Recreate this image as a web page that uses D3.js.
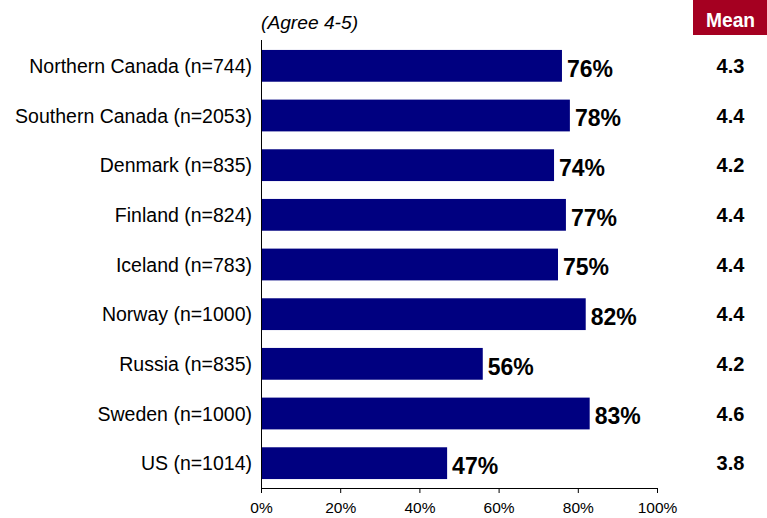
<!DOCTYPE html>
<html>
<head>
<meta charset="utf-8">
<script src="https://cdn.jsdelivr.net/npm/d3@7"></script>
<style>
  html, body { margin: 0; padding: 0; background: #fff; }
  svg { display: block; font-family: "Liberation Sans", Arial, sans-serif; }
</style>
</head>
<body>
<svg id="chart" width="767" height="518"></svg>
<script>
const categories = ["Northern Canada (n=744)", "Southern Canada (n=2053)", "Denmark (n=835)", "Finland (n=824)", "Iceland (n=783)", "Norway (n=1000)", "Russia (n=835)", "Sweden (n=1000)", "US (n=1014)"];
const agreePct = [76, 78, 74, 77, 75, 82, 56, 83, 47];
const means = ["4.3", "4.4", "4.2", "4.4", "4.4", "4.4", "4.2", "4.6", "3.8"];
const xTicks = [0, 20, 40, 60, 80, 100];

const svg = d3.select("#chart");
const x = d3.scaleLinear().domain([0, 100]).range([261, 657]);
const y = d3.scaleBand().domain(categories).range([41, 488]).paddingInner(0.36).paddingOuter(0.18);

// bars
svg.selectAll("rect.bar").data(categories).join("rect")
  .attr("class", "bar")
  .attr("x", x(0))
  .attr("y", d => y(d))
  .attr("width", (d, i) => x(agreePct[i]) - x(0))
  .attr("height", y.bandwidth())
  .attr("fill", "#000080");

// y axis line
svg.append("line").attr("x1", 261.5).attr("x2", 261.5).attr("y1", 40).attr("y2", 488.5)
  .attr("stroke", "#000").attr("stroke-width", 1);

// category labels
svg.selectAll("text.cat").data(categories).join("text")
  .attr("class", "cat")
  .attr("x", 252)
  .attr("y", d => y(d) + y.bandwidth() / 2)
  .attr("dy", "0.36em")
  .attr("text-anchor", "end")
  .attr("font-size", 19.5)
  .attr("fill", "#000")
  .text(d => d);

// value labels
svg.selectAll("text.val").data(categories).join("text")
  .attr("class", "val")
  .attr("x", (d, i) => x(agreePct[i]) + 5)
  .attr("y", d => y(d) + y.bandwidth() / 2 + 2.5)
  .attr("dy", "0.36em")
  .attr("font-size", 23)
  .attr("font-weight", "bold")
  .attr("fill", "#000")
  .text((d, i) => agreePct[i] + "%");

// means
svg.selectAll("text.mean").data(categories).join("text")
  .attr("class", "mean")
  .attr("x", 730.5)
  .attr("y", d => y(d) + y.bandwidth() / 2)
  .attr("dy", "0.36em")
  .attr("text-anchor", "middle")
  .attr("font-size", 20)
  .attr("font-weight", "bold")
  .attr("fill", "#000")
  .text((d, i) => means[i]);

// x axis
const xAxis = d3.axisBottom(x).tickValues(xTicks).tickFormat(d => d + "%").tickSize(5).tickSizeOuter(0);
const gx = svg.append("g").attr("transform", "translate(0,488)").call(xAxis);
gx.attr("font-size", 15.5).attr("font-family", "'Liberation Sans', Arial, sans-serif");
gx.select(".domain").attr("stroke", "#000");
gx.selectAll(".tick line").attr("stroke", "#000");
gx.selectAll(".tick text").attr("fill", "#000").attr("y", 25).attr("dy", 0);

// subtitle
svg.append("text").attr("x", 261).attr("y", 29)
  .attr("font-size", 19.2).attr("font-style", "italic").attr("fill", "#000")
  .text("(Agree 4-5)");

// Mean header
svg.append("rect").attr("x", 693).attr("y", 0).attr("width", 74).attr("height", 35).attr("fill", "#A50021");
svg.append("text").attr("x", 730.5).attr("y", 27)
  .attr("text-anchor", "middle").attr("font-size", 21).attr("font-weight", "bold")
  .attr("fill", "#fff").attr("textLength", 49).attr("lengthAdjust", "spacingAndGlyphs")
  .text("Mean");
</script>
</body>
</html>
